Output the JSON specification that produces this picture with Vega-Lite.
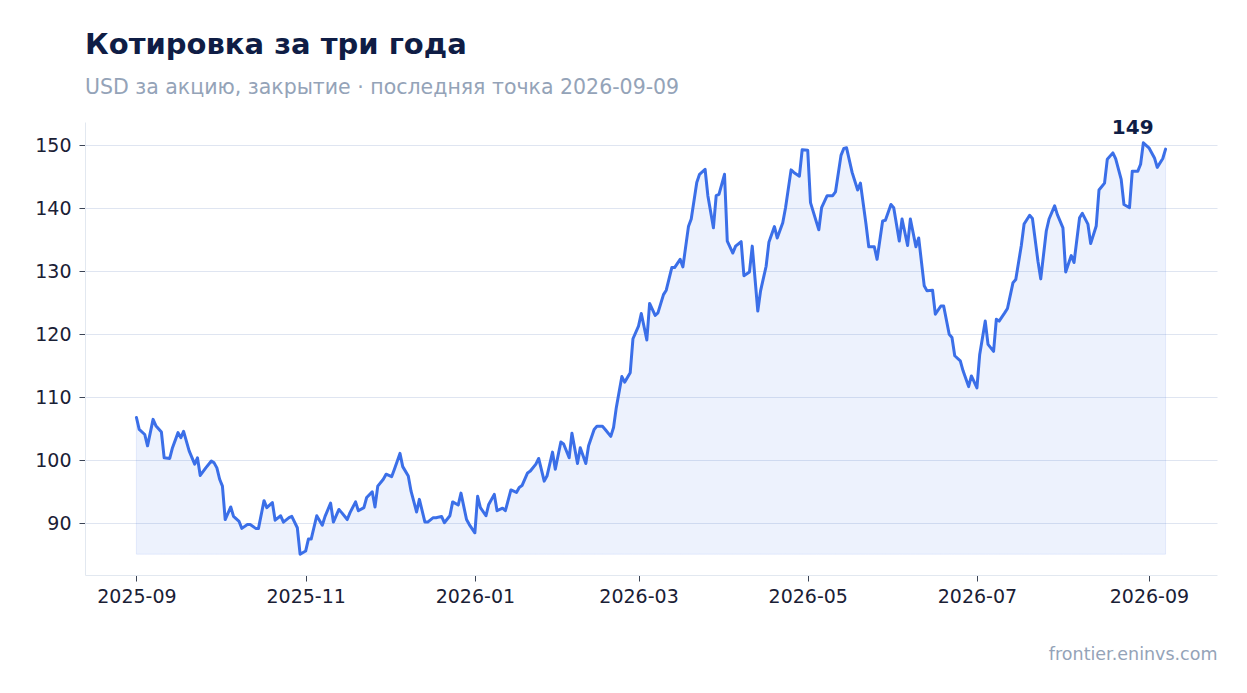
{
  "$schema": "https://vega.github.io/schema/vega-lite/v6.json",
  "background": "white",
  "autosize": {"type": "none"},
  "padding": {"left": 85, "top": 122, "right": 30, "bottom": 118},
  "width": 1132,
  "height": 453,
  "title": {
    "text": "Котировка за три года",
    "subtitle": "USD за акцию, закрытие · последняя точка 2026-09-09",
    "anchor": "start",
    "frame": "group",
    "offset": 20,
    "font": "DejaVu Sans",
    "fontSize": 29,
    "fontWeight": "bold",
    "color": "#0f1d45",
    "subtitleFont": "DejaVu Sans",
    "subtitleFontSize": 20.5,
    "subtitleColor": "#94a3b8",
    "subtitlePadding": 18
  },
  "data": {
    "values": [
      {"date": "2025-09-01", "close": 106.8},
      {"date": "2025-09-02", "close": 104.9},
      {"date": "2025-09-04", "close": 104.1},
      {"date": "2025-09-05", "close": 102.3},
      {"date": "2025-09-07", "close": 106.5},
      {"date": "2025-09-08", "close": 105.5},
      {"date": "2025-09-10", "close": 104.5},
      {"date": "2025-09-11", "close": 100.4},
      {"date": "2025-09-13", "close": 100.3},
      {"date": "2025-09-14", "close": 102.0},
      {"date": "2025-09-16", "close": 104.4},
      {"date": "2025-09-17", "close": 103.6},
      {"date": "2025-09-18", "close": 104.6},
      {"date": "2025-09-20", "close": 101.5},
      {"date": "2025-09-22", "close": 99.4},
      {"date": "2025-09-23", "close": 100.4},
      {"date": "2025-09-24", "close": 97.6},
      {"date": "2025-09-26", "close": 98.8},
      {"date": "2025-09-28", "close": 99.9},
      {"date": "2025-09-29", "close": 99.6},
      {"date": "2025-09-30", "close": 98.8},
      {"date": "2025-10-01", "close": 97.0},
      {"date": "2025-10-02", "close": 95.9},
      {"date": "2025-10-03", "close": 90.6},
      {"date": "2025-10-05", "close": 92.6},
      {"date": "2025-10-06", "close": 91.1},
      {"date": "2025-10-08", "close": 90.3},
      {"date": "2025-10-09", "close": 89.2},
      {"date": "2025-10-11", "close": 89.8},
      {"date": "2025-10-12", "close": 89.8},
      {"date": "2025-10-14", "close": 89.2},
      {"date": "2025-10-15", "close": 89.2},
      {"date": "2025-10-17", "close": 93.6},
      {"date": "2025-10-18", "close": 92.5},
      {"date": "2025-10-20", "close": 93.3},
      {"date": "2025-10-21", "close": 90.5},
      {"date": "2025-10-23", "close": 91.2},
      {"date": "2025-10-24", "close": 90.2},
      {"date": "2025-10-26", "close": 90.9},
      {"date": "2025-10-27", "close": 91.1},
      {"date": "2025-10-29", "close": 89.3},
      {"date": "2025-10-30", "close": 85.1},
      {"date": "2025-11-01", "close": 85.6},
      {"date": "2025-11-02", "close": 87.5},
      {"date": "2025-11-03", "close": 87.5},
      {"date": "2025-11-05", "close": 91.2},
      {"date": "2025-11-07", "close": 89.7},
      {"date": "2025-11-08", "close": 91.1},
      {"date": "2025-11-10", "close": 93.2},
      {"date": "2025-11-11", "close": 90.2},
      {"date": "2025-11-13", "close": 92.2},
      {"date": "2025-11-14", "close": 91.7},
      {"date": "2025-11-16", "close": 90.6},
      {"date": "2025-11-17", "close": 91.7},
      {"date": "2025-11-19", "close": 93.4},
      {"date": "2025-11-20", "close": 92.0},
      {"date": "2025-11-22", "close": 92.5},
      {"date": "2025-11-23", "close": 94.1},
      {"date": "2025-11-25", "close": 95.0},
      {"date": "2025-11-26", "close": 92.6},
      {"date": "2025-11-27", "close": 95.9},
      {"date": "2025-11-29", "close": 97.0},
      {"date": "2025-11-30", "close": 97.8},
      {"date": "2025-12-02", "close": 97.4},
      {"date": "2025-12-03", "close": 98.6},
      {"date": "2025-12-05", "close": 101.1},
      {"date": "2025-12-06", "close": 99.0},
      {"date": "2025-12-08", "close": 97.5},
      {"date": "2025-12-09", "close": 95.1},
      {"date": "2025-12-11", "close": 91.8},
      {"date": "2025-12-12", "close": 93.8},
      {"date": "2025-12-14", "close": 90.2},
      {"date": "2025-12-15", "close": 90.2},
      {"date": "2025-12-17", "close": 90.9},
      {"date": "2025-12-18", "close": 90.9},
      {"date": "2025-12-20", "close": 91.1},
      {"date": "2025-12-21", "close": 90.1},
      {"date": "2025-12-23", "close": 91.2},
      {"date": "2025-12-24", "close": 93.4},
      {"date": "2025-12-26", "close": 92.9},
      {"date": "2025-12-27", "close": 94.8},
      {"date": "2025-12-29", "close": 90.6},
      {"date": "2025-12-30", "close": 89.8},
      {"date": "2026-01-01", "close": 88.5},
      {"date": "2026-01-02", "close": 94.3},
      {"date": "2026-01-03", "close": 92.5},
      {"date": "2026-01-05", "close": 91.2},
      {"date": "2026-01-06", "close": 93.0},
      {"date": "2026-01-08", "close": 94.6},
      {"date": "2026-01-09", "close": 92.0},
      {"date": "2026-01-11", "close": 92.4},
      {"date": "2026-01-12", "close": 92.0},
      {"date": "2026-01-14", "close": 95.3},
      {"date": "2026-01-16", "close": 94.9},
      {"date": "2026-01-17", "close": 95.7},
      {"date": "2026-01-18", "close": 96.0},
      {"date": "2026-01-20", "close": 98.0},
      {"date": "2026-01-21", "close": 98.3},
      {"date": "2026-01-23", "close": 99.4},
      {"date": "2026-01-24", "close": 100.3},
      {"date": "2026-01-26", "close": 96.7},
      {"date": "2026-01-27", "close": 97.5},
      {"date": "2026-01-29", "close": 101.3},
      {"date": "2026-01-30", "close": 98.6},
      {"date": "2026-02-01", "close": 102.9},
      {"date": "2026-02-02", "close": 102.6},
      {"date": "2026-02-04", "close": 100.4},
      {"date": "2026-02-05", "close": 104.3},
      {"date": "2026-02-07", "close": 99.5},
      {"date": "2026-02-08", "close": 102.0},
      {"date": "2026-02-10", "close": 99.5},
      {"date": "2026-02-11", "close": 102.3},
      {"date": "2026-02-13", "close": 104.9},
      {"date": "2026-02-14", "close": 105.4},
      {"date": "2026-02-16", "close": 105.4},
      {"date": "2026-02-17", "close": 104.9},
      {"date": "2026-02-19", "close": 103.8},
      {"date": "2026-02-20", "close": 105.2},
      {"date": "2026-02-21", "close": 108.4},
      {"date": "2026-02-23", "close": 113.3},
      {"date": "2026-02-24", "close": 112.4},
      {"date": "2026-02-26", "close": 113.9},
      {"date": "2026-02-27", "close": 119.3},
      {"date": "2026-03-01", "close": 121.3},
      {"date": "2026-03-02", "close": 123.3},
      {"date": "2026-03-04", "close": 119.1},
      {"date": "2026-03-05", "close": 124.9},
      {"date": "2026-03-07", "close": 123.0},
      {"date": "2026-03-08", "close": 123.4},
      {"date": "2026-03-10", "close": 126.3},
      {"date": "2026-03-11", "close": 127.0},
      {"date": "2026-03-13", "close": 130.6},
      {"date": "2026-03-14", "close": 130.6},
      {"date": "2026-03-16", "close": 131.9},
      {"date": "2026-03-17", "close": 130.7},
      {"date": "2026-03-19", "close": 137.1},
      {"date": "2026-03-20", "close": 138.3},
      {"date": "2026-03-22", "close": 144.1},
      {"date": "2026-03-23", "close": 145.4},
      {"date": "2026-03-25", "close": 146.2},
      {"date": "2026-03-26", "close": 142.0},
      {"date": "2026-03-28", "close": 136.9},
      {"date": "2026-03-29", "close": 142.0},
      {"date": "2026-03-30", "close": 142.2},
      {"date": "2026-04-01", "close": 145.4},
      {"date": "2026-04-02", "close": 134.8},
      {"date": "2026-04-04", "close": 132.9},
      {"date": "2026-04-05", "close": 134.0},
      {"date": "2026-04-07", "close": 134.7},
      {"date": "2026-04-08", "close": 129.3},
      {"date": "2026-04-10", "close": 129.9},
      {"date": "2026-04-11", "close": 134.0},
      {"date": "2026-04-13", "close": 123.7},
      {"date": "2026-04-14", "close": 126.9},
      {"date": "2026-04-16", "close": 130.8},
      {"date": "2026-04-17", "close": 134.6},
      {"date": "2026-04-19", "close": 137.1},
      {"date": "2026-04-20", "close": 135.3},
      {"date": "2026-04-22", "close": 137.7},
      {"date": "2026-04-23", "close": 140.1},
      {"date": "2026-04-25", "close": 146.1},
      {"date": "2026-04-26", "close": 145.7},
      {"date": "2026-04-28", "close": 145.1},
      {"date": "2026-04-29", "close": 149.3},
      {"date": "2026-05-01", "close": 149.2},
      {"date": "2026-05-02", "close": 140.9},
      {"date": "2026-05-04", "close": 138.0},
      {"date": "2026-05-05", "close": 136.6},
      {"date": "2026-05-06", "close": 140.1},
      {"date": "2026-05-08", "close": 142.0},
      {"date": "2026-05-10", "close": 142.0},
      {"date": "2026-05-11", "close": 142.6},
      {"date": "2026-05-13", "close": 148.4},
      {"date": "2026-05-14", "close": 149.5},
      {"date": "2026-05-15", "close": 149.6},
      {"date": "2026-05-17", "close": 145.7},
      {"date": "2026-05-19", "close": 142.9},
      {"date": "2026-05-20", "close": 144.0},
      {"date": "2026-05-22", "close": 137.5},
      {"date": "2026-05-23", "close": 133.9},
      {"date": "2026-05-25", "close": 133.9},
      {"date": "2026-05-26", "close": 131.9},
      {"date": "2026-05-28", "close": 138.0},
      {"date": "2026-05-29", "close": 138.1},
      {"date": "2026-05-31", "close": 140.6},
      {"date": "2026-06-01", "close": 140.1},
      {"date": "2026-06-03", "close": 134.8},
      {"date": "2026-06-04", "close": 138.3},
      {"date": "2026-06-06", "close": 134.1},
      {"date": "2026-06-07", "close": 138.3},
      {"date": "2026-06-09", "close": 133.9},
      {"date": "2026-06-10", "close": 135.3},
      {"date": "2026-06-12", "close": 127.7},
      {"date": "2026-06-13", "close": 126.9},
      {"date": "2026-06-15", "close": 127.0},
      {"date": "2026-06-16", "close": 123.2},
      {"date": "2026-06-18", "close": 124.5},
      {"date": "2026-06-19", "close": 124.5},
      {"date": "2026-06-21", "close": 120.0},
      {"date": "2026-06-22", "close": 119.5},
      {"date": "2026-06-23", "close": 116.6},
      {"date": "2026-06-25", "close": 115.8},
      {"date": "2026-06-26", "close": 114.2},
      {"date": "2026-06-28", "close": 111.7},
      {"date": "2026-06-29", "close": 113.4},
      {"date": "2026-07-01", "close": 111.5},
      {"date": "2026-07-02", "close": 116.8},
      {"date": "2026-07-04", "close": 122.1},
      {"date": "2026-07-05", "close": 118.4},
      {"date": "2026-07-07", "close": 117.3},
      {"date": "2026-07-08", "close": 122.4},
      {"date": "2026-07-09", "close": 122.1},
      {"date": "2026-07-11", "close": 123.4},
      {"date": "2026-07-12", "close": 124.1},
      {"date": "2026-07-14", "close": 128.2},
      {"date": "2026-07-15", "close": 128.7},
      {"date": "2026-07-17", "close": 134.1},
      {"date": "2026-07-18", "close": 137.5},
      {"date": "2026-07-20", "close": 138.9},
      {"date": "2026-07-21", "close": 138.4},
      {"date": "2026-07-23", "close": 131.6},
      {"date": "2026-07-24", "close": 128.8},
      {"date": "2026-07-26", "close": 136.4},
      {"date": "2026-07-27", "close": 138.3},
      {"date": "2026-07-29", "close": 140.4},
      {"date": "2026-07-30", "close": 139.0},
      {"date": "2026-08-01", "close": 136.9},
      {"date": "2026-08-02", "close": 129.9},
      {"date": "2026-08-04", "close": 132.5},
      {"date": "2026-08-05", "close": 131.4},
      {"date": "2026-08-07", "close": 138.5},
      {"date": "2026-08-08", "close": 139.2},
      {"date": "2026-08-10", "close": 137.5},
      {"date": "2026-08-11", "close": 134.4},
      {"date": "2026-08-13", "close": 137.2},
      {"date": "2026-08-14", "close": 142.9},
      {"date": "2026-08-16", "close": 144.0},
      {"date": "2026-08-17", "close": 147.8},
      {"date": "2026-08-19", "close": 148.8},
      {"date": "2026-08-20", "close": 147.9},
      {"date": "2026-08-22", "close": 144.6},
      {"date": "2026-08-23", "close": 140.6},
      {"date": "2026-08-25", "close": 140.1},
      {"date": "2026-08-26", "close": 145.9},
      {"date": "2026-08-28", "close": 145.9},
      {"date": "2026-08-29", "close": 147.0},
      {"date": "2026-08-30", "close": 150.4},
      {"date": "2026-09-01", "close": 149.6},
      {"date": "2026-09-03", "close": 148.0},
      {"date": "2026-09-04", "close": 146.5},
      {"date": "2026-09-06", "close": 147.9},
      {"date": "2026-09-07", "close": 149.4}
    ]
  },
  "encoding": {
    "x": {
      "field": "date",
      "type": "temporal",
      "scale": {
        "type": "utc",
        "domain": [
          {"year": 2025, "month": 8, "date": 13, "hours": 11, "utc": true},
          {"year": 2026, "month": 9, "date": 25, "hours": 13, "utc": true}
        ]
      },
      "axis": {
        "title": "frontier.eninvs.com",
        "titleAnchor": "end",
        "titleAlign": "right",
        "titleFont": "DejaVu Sans",
        "titleFontSize": 17.5,
        "titleFontWeight": "normal",
        "titleColor": "#94a3b8",
        "titlePadding": 39,
        "format": "%Y-%m",
        "tickCount": {"interval": "month", "step": 2},
        "grid": false,
        "domainColor": "#e2e8f0",
        "tickColor": "#3b4456",
        "tickSize": 6,
        "labelFont": "DejaVu Sans",
        "labelFontSize": 19,
        "labelColor": "#1a2035",
        "labelPadding": 6
      }
    },
    "y": {
      "field": "close",
      "type": "quantitative",
      "scale": {"domain": [81.8, 153.7], "nice": false, "zero": false},
      "axis": {
        "title": null,
        "values": [90, 100, 110, 120, 130, 140, 150],
        "grid": true,
        "gridColor": "#dfe5f1",
        "domainColor": "#e2e8f0",
        "tickColor": "#3b4456",
        "tickSize": 6,
        "labelFont": "DejaVu Sans",
        "labelFontSize": 19,
        "labelColor": "#1a2035",
        "labelPadding": 8
      }
    }
  },
  "layer": [
    {
      "mark": {
        "type": "area",
        "color": "#3b6fe8",
        "fillOpacity": 0.09,
        "stroke": "#3b6fe8",
        "strokeOpacity": 0.1,
        "strokeWidth": 1
      },
      "encoding": {"y2": {"datum": 85.1}}
    },
    {
      "mark": {
        "type": "line",
        "color": "#3b6fe8",
        "strokeWidth": 3,
        "strokeJoin": "round",
        "strokeCap": "round"
      }
    },
    {
      "transform": [
        {"filter": {"field": "date", "equal": {"year": 2026, "month": 9, "date": 7, "utc": true}}}
      ],
      "mark": {
        "type": "text",
        "align": "right",
        "baseline": "bottom",
        "dx": -12,
        "dy": -11,
        "font": "DejaVu Sans",
        "fontSize": 20,
        "fontWeight": "bold",
        "color": "#0f1d45"
      },
      "encoding": {"text": {"field": "close", "format": ".0f"}}
    }
  ],
  "config": {
    "view": {"stroke": null}
  }
}
